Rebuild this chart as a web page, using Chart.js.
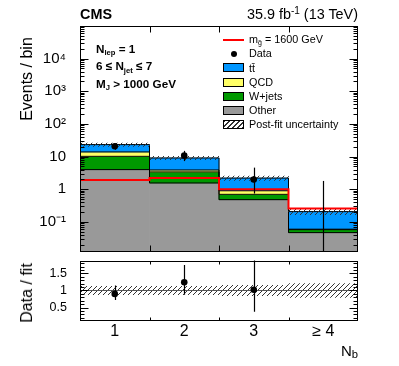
<!DOCTYPE html>
<html>
<head>
<meta charset="utf-8">
<script src="https://cdn.jsdelivr.net/npm/chart.js@4.4.1/dist/chart.umd.min.js"></script>
<style>
html, body { margin: 0; padding: 0; background: #fff; }
#wrap { position: relative; width: 399px; height: 366px; overflow: hidden;
  font-family: 'Liberation Sans', Arial, Helvetica, sans-serif; color: #000; }
canvas { position: absolute; left: 0; }
#top { top: 0; }
#rat { top: 253px; }
.t { position: absolute; white-space: nowrap; line-height: 1; }
.sb { font-size: .65em; position: relative; top: .3em; }
.sp { font-size: .7em; position: relative; top: -.55em; }
.sw { position: absolute; box-sizing: border-box; }
</style>
</head>
<body>
<div id="wrap">
  <canvas id="top" width="399" height="256" style="width:399px;height:256px"></canvas>
  <canvas id="rat" width="399" height="113" style="width:399px;height:113px"></canvas>
</div>
<script>
// bins in N_b
const nbLabels  = ["1", "2", "3", "\u2265 4"];
const nbCenters = [1, 2, 3, 4];
const binEdges  = [0.5, 1.5, 2.5, 3.5, 4.5];

// post-fit background, events per bin
const other = [4.0, 1.56, 0.48, 0.047];
const wjets = [6.2, 1.84, 0.22, 0.011];
const qcd   = [3.7, 0.50, 0.20, 0.002];
const ttbar = [9.4, 5.20, 1.30, 0.147];

// signal m_gluino = 1600 GeV
const signal = [1.93, 2.2, 1.0, 0.26];

// data with poisson errors
const dataY  = [20.7, 10.7, 2.0, 0];
const dataLo = [16.2, 7.3, 0.74, 0];
const dataHi = [25.3, 15.0, 4.6, 1.8];

// post-fit relative uncertainty
const uncLo = [0.88, 0.88, 0.85, 0.80];
const uncHi = [1.12, 1.12, 1.15, 1.20];

// data / fit
const ratio   = [0.90, 1.24, 1.02, null];
const ratioLo = [0.72, 0.875, 0.38, null];
const ratioHi = [1.15, 1.75, 2.35, null];

const yMin = 0.012, yMax = 1e5;
const yTickVals   = [0.1, 1, 10, 100, 1000, 10000];
const yTickLabels = ["10\u207B\u00B9", "1", "10", "10\u00B2", "10\u00B3", "10\u2074"];
const rMin = 0.12, rMax = 1.88;
const rTickVals   = [0.5, 1, 1.5];
const rTickLabels = ["0.5", "1", "1.5"];

const FONT = "'Liberation Sans', Arial, Helvetica, sans-serif";
const colors = { other: "#999999", wjets: "#009900", qcd: "#ffff66", ttbar: "#0096ff", sig: "#ff0000" };

// cumulative stack levels
const lvOther = other.slice();
const lvW = lvOther.map((v, i) => v + wjets[i]);
const lvQ = lvW.map((v, i) => v + qcd[i]);
const lvT = lvQ.map((v, i) => v + ttbar[i]);

function steps(vals) {
  return binEdges.map((x, i) => ({ x, y: vals[Math.min(i, vals.length - 1)] }));
}

function makeHatch() {
  const c = document.createElement("canvas");
  c.width = 5; c.height = 5;
  const g = c.getContext("2d");
  g.strokeStyle = "#333"; g.lineWidth = 1;
  g.beginPath();
  g.moveTo(0, 5); g.lineTo(5, 0);
  g.moveTo(-1, 1); g.lineTo(1, -1);
  g.moveTo(4, 6); g.lineTo(6, 4);
  g.stroke();
  return g.createPattern(c, "repeat");
}
const hatch = makeHatch();

// frame, inward ticks and error bars
const frameTicks = {
  id: "frameTicks",
  afterDatasetsDraw(chart, args, opts) {
    const { ctx, chartArea: a, scales } = chart;
    const y = scales.y, x2 = scales.x2;
    ctx.save();
    ctx.beginPath();
    ctx.rect(a.left, a.top, a.right - a.left, a.bottom - a.top);
    ctx.clip();
    ctx.strokeStyle = "#000";
    ctx.lineWidth = 1.2;
    chart.data.datasets.forEach(ds => {
      if (!ds.errHi) return;
      ds.data.forEach((p, j) => {
        if (ds.errHi[j] == null) return;
        const px = Math.round(x2.getPixelForValue(p.x)) + 0.5;
        ctx.beginPath();
        ctx.moveTo(px, y.getPixelForValue(ds.errLo[j]));
        ctx.lineTo(px, y.getPixelForValue(ds.errHi[j]));
        ctx.stroke();
      });
    });
    ctx.restore();

    ctx.save();
    ctx.strokeStyle = "#000";
    ctx.lineWidth = 1;
    const L = Math.round(a.left) + 0.5, R = Math.round(a.right) - 0.5;
    const T = Math.round(a.top) + 0.5, B = Math.round(a.bottom) - 0.5;
    ctx.strokeRect(L, T, R - L, B - T);
    ctx.beginPath();
    const ytick = (v, len) => {
      const py = Math.round(y.getPixelForValue(v)) + 0.5;
      if (py < T || py > B) return;
      ctx.moveTo(L, py); ctx.lineTo(L + len, py);
      ctx.moveTo(R, py); ctx.lineTo(R - len, py);
    };
    opts.majors.forEach(v => ytick(v, 8));
    opts.minors.forEach(v => ytick(v, 4));
    binEdges.slice(1, -1).forEach(v => {
      const px = Math.round(x2.getPixelForValue(v)) + 0.5;
      ctx.moveTo(px, B); ctx.lineTo(px, B - opts.xLen);
      ctx.moveTo(px, T); ctx.lineTo(px, T + opts.xLen);
    });
    ctx.stroke();
    ctx.restore();
  }
};

const logMinors = [];
for (let e = -2; e <= 4; e++) for (let k = 2; k <= 9; k++) logMinors.push(k * Math.pow(10, e));
const linMinors = [];
for (let k = 1; k <= 19; k++) if (k % 5) linMinors.push(k / 10);

function barSet(label, lo, hi, color, order) {
  return { type: "bar", label, data: lo.map((v, i) => [v, hi[i]]), backgroundColor: color,
    borderWidth: 0, barPercentage: 1, categoryPercentage: 1, grouped: false, order };
}
function outline(vals, order) {
  return { type: "line", data: steps(vals), xAxisID: "x2", stepped: "before", borderColor: "#000",
    borderWidth: 1, pointRadius: 0, fill: false, order };
}
// fixed width y axis, no extra room for the end labels
function fixY(s) {
  s.width = 80;
  s.paddingTop = 0;
  s.paddingBottom = 0;
}

const floor = other.map(() => yMin);
const x2Axis = { type: "linear", display: false, min: binEdges[0], max: binEdges[binEdges.length - 1],
  offset: false, grid: { offset: false } };

new Chart(document.getElementById("top"), {
  type: "bar",
  data: {
    labels: nbLabels,
    datasets: [
      { type: "scatter", label: "Data", data: nbCenters.map((x, i) => ({ x, y: dataY[i] })), xAxisID: "x2",
        pointRadius: dataY.map(v => v > 0 ? 3.3 : 0), pointBackgroundColor: "#000", pointBorderWidth: 0,
        errLo: dataLo, errHi: dataHi, order: 0 },
      { type: "line", label: "signal", data: steps(signal), xAxisID: "x2", stepped: "before",
        borderColor: colors.sig, borderWidth: 2, pointRadius: 0, fill: false, order: 1 },
      barSet("unc", lvT.map((t, i) => t * uncLo[i]), lvT.map((t, i) => t * uncHi[i]), hatch, 2),
      outline(lvT, 3), outline(lvQ, 3), outline(lvW, 3), outline(lvOther, 3),
      barSet("ttbar", lvQ, lvT, colors.ttbar, 4),
      barSet("qcd", lvW, lvQ, colors.qcd, 5),
      barSet("wjets", lvOther, lvW, colors.wjets, 6),
      barSet("other", floor, lvOther, colors.other, 7)
    ]
  },
  options: {
    responsive: false, animation: false,
    layout: { padding: { top: 26, right: 41, bottom: 4, left: 0 } },
    plugins: { legend: { display: false }, tooltip: { enabled: false },
      frameTicks: { majors: yTickVals, minors: logMinors, xLen: 6 } },
    scales: {
      x: { type: "category", display: false, offset: true },
      x2: x2Axis,
      y: { type: "logarithmic", min: yMin, max: yMax, stacked: false,
        afterFit: fixY,
        afterBuildTicks: s => { s.ticks = yTickVals.map(v => ({ value: v })); },
        grid: { display: false }, border: { display: false },
        ticks: { color: "#000", padding: 6, font: { family: FONT, size: 15 },
          callback: v => yTickLabels[yTickVals.indexOf(v)] } }
    }
  },
  plugins: [frameTicks]
});

new Chart(document.getElementById("rat"), {
  type: "bar",
  data: {
    labels: nbLabels,
    datasets: [
      { type: "scatter", data: nbCenters.map((x, i) => ({ x, y: ratio[i] })), xAxisID: "x2",
        pointRadius: 3.3, pointBackgroundColor: "#000", pointBorderWidth: 0,
        errLo: ratioLo, errHi: ratioHi, order: 0 },
      { type: "line", data: [{ x: binEdges[0], y: 1 }, { x: binEdges[binEdges.length - 1], y: 1 }], xAxisID: "x2",
        borderColor: "#555", borderWidth: 1, pointRadius: 0, fill: false, order: 1 },
      barSet("unc", uncLo, uncHi, hatch, 2)
    ]
  },
  options: {
    responsive: false, animation: false,
    layout: { padding: { top: 7.5, right: 41, bottom: 0, left: 0 } },
    plugins: { legend: { display: false }, tooltip: { enabled: false },
      frameTicks: { majors: rTickVals, minors: linMinors, xLen: 3 } },
    scales: {
      x: { type: "category", offset: true, afterFit: s => { s.height = 45.5; },
        grid: { display: false }, border: { display: false },
        ticks: { color: "#000", padding: -7, maxRotation: 0, autoSkip: false, font: { family: FONT, size: 16 } } },
      x2: x2Axis,
      y: { type: "linear", min: rMin, max: rMax,
        afterFit: fixY,
        afterBuildTicks: s => { s.ticks = rTickVals.map(v => ({ value: v })); },
        grid: { display: false }, border: { display: false },
        ticks: { color: "#000", padding: 5, font: { family: FONT, size: 12.5 },
          callback: v => rTickLabels[rTickVals.indexOf(v)] } }
    }
  },
  plugins: [frameTicks]
});

// text and legend overlay
const wrap = document.getElementById("wrap");
function txt(html, x, base, size, o = {}) {
  const d = document.createElement("div");
  d.className = "t";
  d.innerHTML = html;
  d.style.fontSize = size + "px";
  d.style.top = (base - 0.85 * size) + "px";
  if (o.right) d.style.right = (399 - x) + "px"; else d.style.left = x + "px";
  if (o.bold) d.style.fontWeight = "bold";
  wrap.appendChild(d);
}
function vtxt(html, cx, cy, size) {
  const d = document.createElement("div");
  d.className = "t";
  d.innerHTML = html;
  d.style.fontSize = size + "px";
  d.style.left = cx + "px";
  d.style.top = cy + "px";
  d.style.transform = "translate(-50%,-50%) rotate(-90deg)";
  wrap.appendChild(d);
}
function sw(x, y, w, h, css) {
  const d = document.createElement("div");
  d.className = "sw";
  Object.assign(d.style, { left: x + "px", top: y + "px", width: w + "px", height: h + "px" }, css);
  wrap.appendChild(d);
}

txt("CMS", 80, 19.3, 14.4, { bold: true });
txt('35.9 fb<span class="sp">-1</span> (13 TeV)', 358, 19.3, 14.4, { right: true });
txt('N<span class="sb">lep</span> = 1', 96, 52.7, 11.7, { bold: true });
txt('6 \u2264 N<span class="sb">jet</span> \u2264 7', 96, 70.3, 11.7, { bold: true });
txt('M<span class="sb">J</span> &gt; 1000 GeV', 96, 87.8, 11.7, { bold: true });

const legBase = [43.3, 57.5, 71.7, 85.9, 100.1, 114.3, 128.5];
const legText = ['m<span class="sb">g\u0303</span> = 1600 GeV', "Data", "tt\u0304", "QCD", "W+jets", "Other", "Post-fit uncertainty"];
legText.forEach((s, i) => txt(s, 249, legBase[i], 10.8));
sw(223, legBase[0] - 4.8, 21, 2, { background: colors.sig });
sw(230.5, legBase[1] - 6.8, 6, 6, { background: "#000", borderRadius: "50%" });
[colors.ttbar, colors.qcd, colors.wjets, colors.other].forEach((c, i) =>
  sw(223, legBase[i + 2] - 8.3, 21, 9, { background: c, border: "1px solid #000" }));
sw(223, legBase[6] - 8.3, 21, 9, { border: "1px solid #000",
  background: "repeating-linear-gradient(135deg, #333 0 1px, #fff 1px 3.5px)" });

vtxt("Events / bin", 27, 79, 16);
vtxt("Data / fit", 27, 293, 16);
txt('N<span class="sb" style="font-size:.75em;top:.25em">b</span>', 358, 355.3, 15, { right: true });
</script>
</body>
</html>
